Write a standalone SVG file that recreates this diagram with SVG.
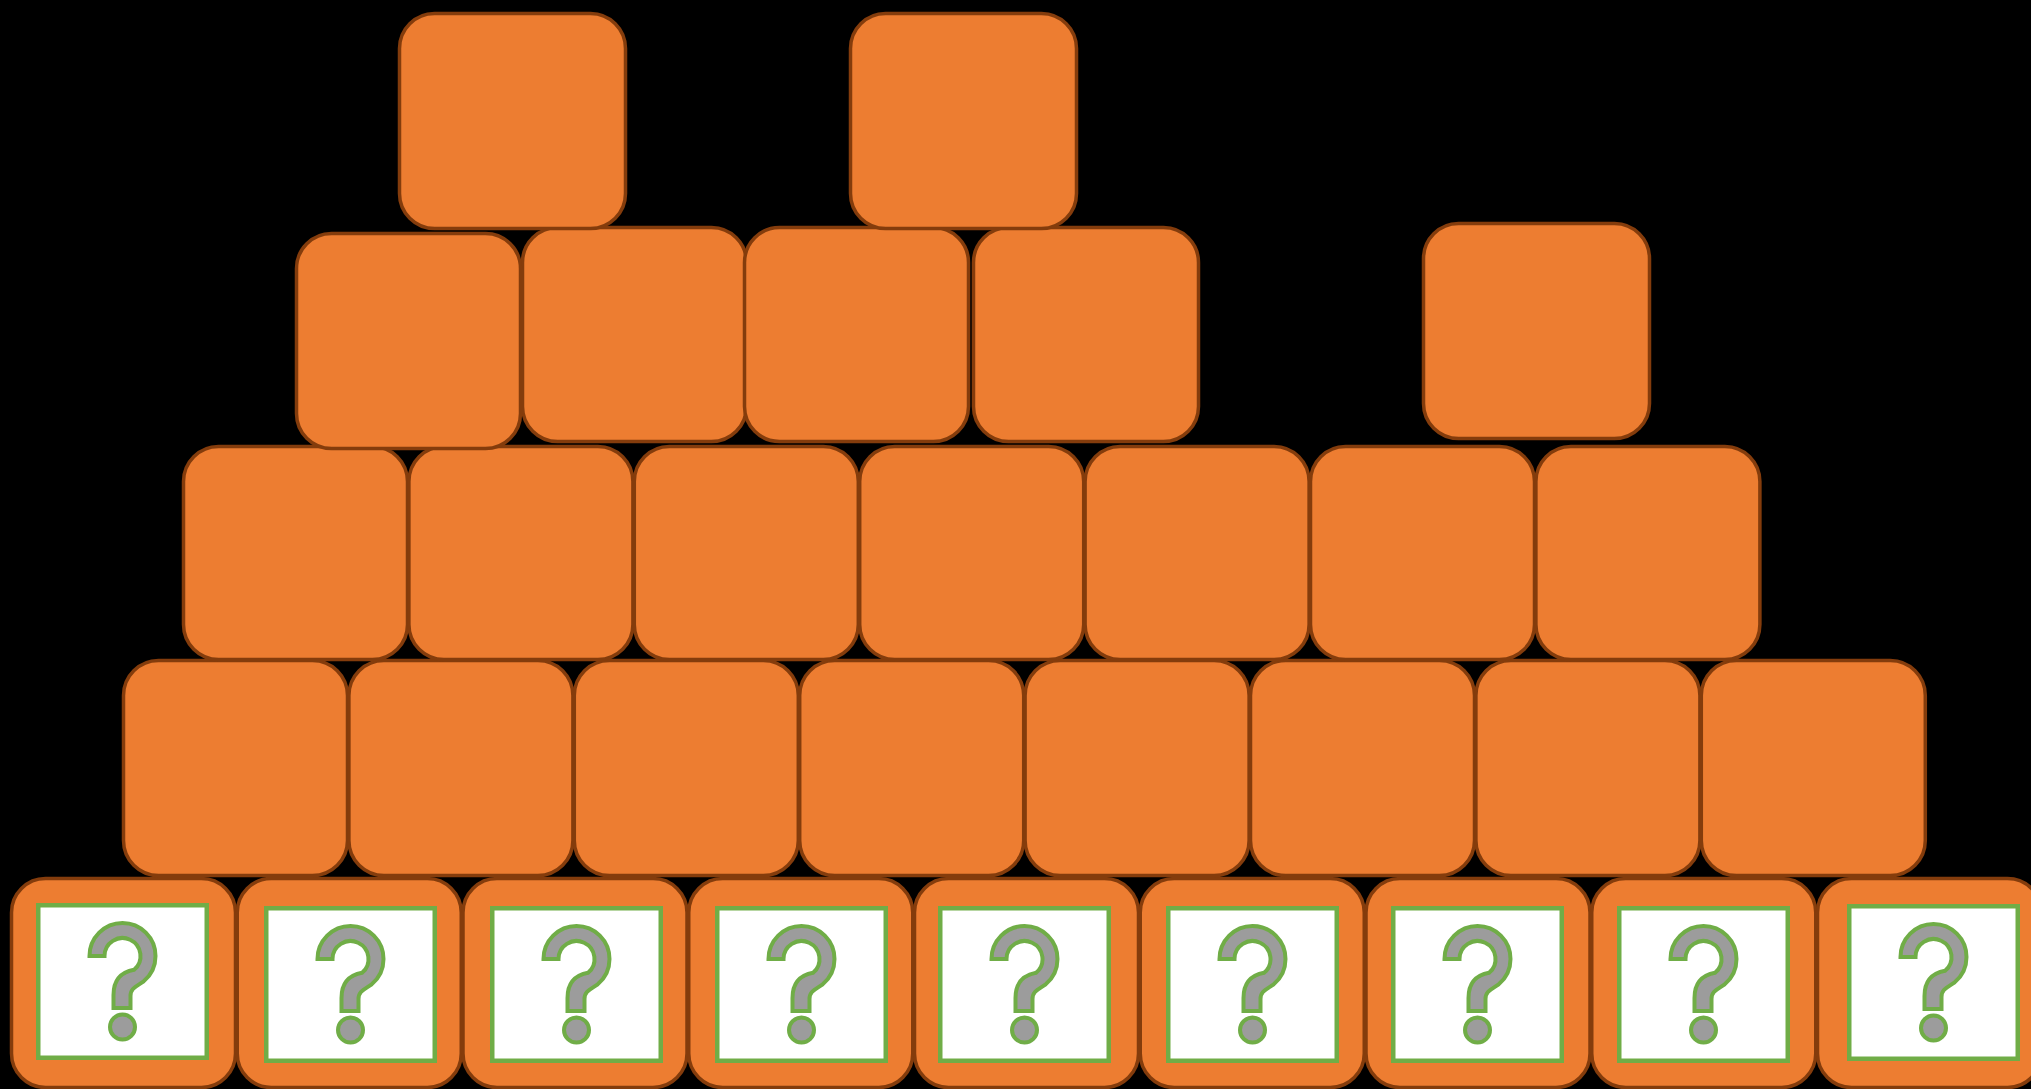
<svg xmlns="http://www.w3.org/2000/svg" xmlns:xlink="http://www.w3.org/1999/xlink" width="2031" height="1089" viewBox="0 0 2031 1089">
<style>
.box{fill:#ED7D31;stroke:#843C0C;stroke-width:3.5}
.inner{fill:#FFFFFF;stroke:#70AD47;stroke-width:4.5}
.qm{fill:#9C9C9C;stroke:#70AD47;stroke-width:4;stroke-linejoin:miter}
</style>
<defs>
<g id="q">
<path class="qm" d="M -33,-71 A 33 33 0 0 1 33,-71 A 33 33 0 0 1 21.2,-45.7 C 14,-40.5 8,-39 8,-31 L 8,-19 L -9,-19 L -9,-32 C -9,-49 0,-55 11.6,-57.2 A 18 18 0 1 0 -18,-71 Z"/>
<circle class="qm" cx="0" cy="0" r="12.5"/>
</g>
</defs>
<rect x="0" y="0" width="2031" height="1089" fill="#000000"/>
<g id="connectors"/>
<g id="row-e">
<g id="e1"><rect class="box" x="11.5" y="878.5" width="224" height="209" rx="34"/><rect class="inner" x="38.25" y="905.25" width="168.5" height="152.5"/><use xlink:href="#q" href="#q" x="122.5" y="1027"/></g>
<g id="e2"><rect class="box" x="237.25" y="878.5" width="224" height="209" rx="34"/><rect class="inner" x="266.25" y="908.25" width="168.5" height="152.5"/><use xlink:href="#q" href="#q" x="350.5" y="1030"/></g>
<g id="e3"><rect class="box" x="463" y="878.5" width="224" height="209" rx="34"/><rect class="inner" x="492.25" y="908.25" width="168.5" height="152.5"/><use xlink:href="#q" href="#q" x="576.5" y="1030"/></g>
<g id="e4"><rect class="box" x="688.75" y="878.5" width="224" height="209" rx="34"/><rect class="inner" x="717.25" y="908.25" width="168.5" height="152.5"/><use xlink:href="#q" href="#q" x="801.5" y="1030"/></g>
<g id="e5"><rect class="box" x="914.5" y="878.5" width="224" height="209" rx="34"/><rect class="inner" x="940.25" y="908.25" width="168.5" height="152.5"/><use xlink:href="#q" href="#q" x="1024.5" y="1030"/></g>
<g id="e6"><rect class="box" x="1140.25" y="878.5" width="224" height="209" rx="34"/><rect class="inner" x="1168.25" y="908.25" width="168.5" height="152.5"/><use xlink:href="#q" href="#q" x="1252.5" y="1030"/></g>
<g id="e7"><rect class="box" x="1366" y="878.5" width="224" height="209" rx="34"/><rect class="inner" x="1393.25" y="908.25" width="168.5" height="152.5"/><use xlink:href="#q" href="#q" x="1477.5" y="1030"/></g>
<g id="e8"><rect class="box" x="1591.75" y="878.5" width="224" height="209" rx="34"/><rect class="inner" x="1619.25" y="908.25" width="168.5" height="152.5"/><use xlink:href="#q" href="#q" x="1703.5" y="1030"/></g>
<g id="e9"><rect class="box" x="1817.5" y="878.5" width="224" height="209" rx="34"/><rect class="inner" x="1849.25" y="906.25" width="168.5" height="152.5"/><use xlink:href="#q" href="#q" x="1933.5" y="1028"/></g>
</g>
<g id="row-d">
<g id="d1"><rect class="box" x="123.5" y="660.5" width="224" height="215" rx="35"/></g>
<g id="d2"><rect class="box" x="348.9" y="660.5" width="224" height="215" rx="35"/></g>
<g id="d3"><rect class="box" x="574.3" y="660.5" width="224" height="215" rx="35"/></g>
<g id="d4"><rect class="box" x="799.7" y="660.5" width="224" height="215" rx="35"/></g>
<g id="d5"><rect class="box" x="1025.1" y="660.5" width="224" height="215" rx="35"/></g>
<g id="d6"><rect class="box" x="1250.5" y="660.5" width="224" height="215" rx="35"/></g>
<g id="d7"><rect class="box" x="1475.9" y="660.5" width="224" height="215" rx="35"/></g>
<g id="d8"><rect class="box" x="1701.3" y="660.5" width="224" height="215" rx="35"/></g>
</g>
<g id="row-c">
<g id="c1"><rect class="box" x="183.5" y="446.5" width="224" height="213" rx="35"/></g>
<g id="c2"><rect class="box" x="408.9" y="446.5" width="224" height="213" rx="35"/></g>
<g id="c3"><rect class="box" x="634.3" y="446.5" width="224" height="213" rx="35"/></g>
<g id="c4"><rect class="box" x="859.7" y="446.5" width="224" height="213" rx="35"/></g>
<g id="c5"><rect class="box" x="1085.1" y="446.5" width="224" height="213" rx="35"/></g>
<g id="c6"><rect class="box" x="1310.5" y="446.5" width="224" height="213" rx="35"/></g>
<g id="c7"><rect class="box" x="1535.9" y="446.5" width="224" height="213" rx="35"/></g>
</g>
<g id="row-b">
<g id="b2"><rect class="box" x="522.5" y="227.5" width="224" height="214" rx="35"/></g>
<g id="b1"><rect class="box" x="296.5" y="233.5" width="224" height="215" rx="35"/></g>
<g id="b3"><rect class="box" x="744.5" y="227.5" width="224" height="214" rx="35"/></g>
<g id="b4"><rect class="box" x="973.5" y="227.5" width="225" height="214" rx="35"/></g>
<g id="b5"><rect class="box" x="1423.5" y="223.5" width="226" height="215" rx="35"/></g>
</g>
<g id="row-a">
<g id="a1"><rect class="box" x="399.5" y="13.5" width="226" height="215" rx="35"/></g>
<g id="a2"><rect class="box" x="850.5" y="13.5" width="226" height="215" rx="35"/></g>
</g>
</svg>
